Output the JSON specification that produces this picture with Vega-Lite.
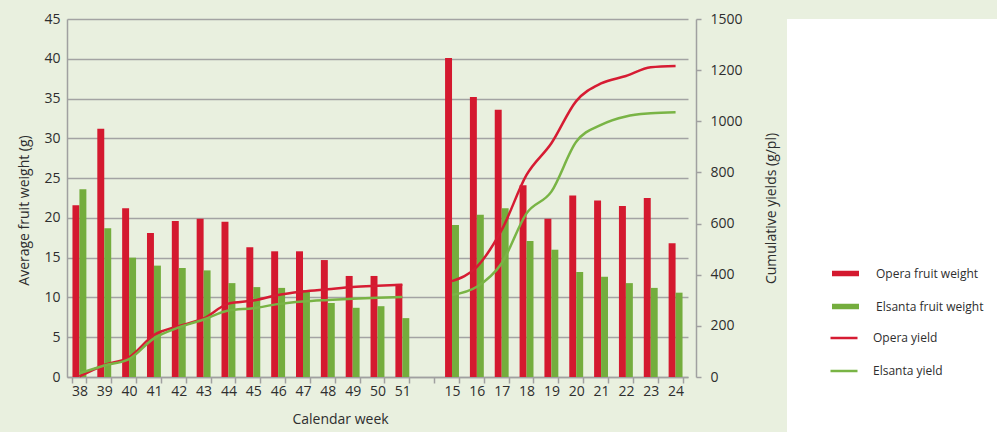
{
  "$schema": "https://vega.github.io/schema/vega-lite/v6.json",
  "background": "#e9f0df",
  "padding": {"left": 17, "top": 12, "right": 0, "bottom": 0},
  "spacing": 8,
  "config": {
    "font": "Open Sans",
    "view": {"stroke": null},
    "axis": {
      "labelFont": "Open Sans",
      "titleFont": "Open Sans",
      "labelColor": "#2e2e2e",
      "titleColor": "#2e2e2e",
      "labelFontSize": 14,
      "titleFontSize": 14,
      "titleFontWeight": "normal",
      "domainColor": "#a0a0a0",
      "domainWidth": 1.5,
      "tickColor": "#a0a0a0",
      "tickWidth": 1.5,
      "gridColor": "#a3a3a3",
      "gridWidth": 1.5
    },
    "legend": {
      "labelFont": "Open Sans",
      "labelFontSize": 12,
      "labelColor": "#2e2e2e",
      "labelOffset": 14,
      "rowPadding": 4,
      "symbolType": "stroke",
      "symbolSize": 729
    }
  },
  "datasets": {
    "bars": [
      {"week": "38", "variety": "Opera", "weight": 21.6},
      {"week": "38", "variety": "Elsanta", "weight": 23.6},
      {"week": "39", "variety": "Opera", "weight": 31.2},
      {"week": "39", "variety": "Elsanta", "weight": 18.7},
      {"week": "40", "variety": "Opera", "weight": 21.2},
      {"week": "40", "variety": "Elsanta", "weight": 15.0},
      {"week": "41", "variety": "Opera", "weight": 18.1},
      {"week": "41", "variety": "Elsanta", "weight": 14.0},
      {"week": "42", "variety": "Opera", "weight": 19.6},
      {"week": "42", "variety": "Elsanta", "weight": 13.7},
      {"week": "43", "variety": "Opera", "weight": 19.9},
      {"week": "43", "variety": "Elsanta", "weight": 13.4},
      {"week": "44", "variety": "Opera", "weight": 19.5},
      {"week": "44", "variety": "Elsanta", "weight": 11.8},
      {"week": "45", "variety": "Opera", "weight": 16.3},
      {"week": "45", "variety": "Elsanta", "weight": 11.3},
      {"week": "46", "variety": "Opera", "weight": 15.8},
      {"week": "46", "variety": "Elsanta", "weight": 11.2},
      {"week": "47", "variety": "Opera", "weight": 15.8},
      {"week": "47", "variety": "Elsanta", "weight": 10.9},
      {"week": "48", "variety": "Opera", "weight": 14.7},
      {"week": "48", "variety": "Elsanta", "weight": 9.3},
      {"week": "49", "variety": "Opera", "weight": 12.7},
      {"week": "49", "variety": "Elsanta", "weight": 8.7},
      {"week": "50", "variety": "Opera", "weight": 12.7},
      {"week": "50", "variety": "Elsanta", "weight": 8.9},
      {"week": "51", "variety": "Opera", "weight": 11.7},
      {"week": "51", "variety": "Elsanta", "weight": 7.4},
      {"week": "15", "variety": "Opera", "weight": 40.1},
      {"week": "15", "variety": "Elsanta", "weight": 19.1},
      {"week": "16", "variety": "Opera", "weight": 35.2},
      {"week": "16", "variety": "Elsanta", "weight": 20.4},
      {"week": "17", "variety": "Opera", "weight": 33.6},
      {"week": "17", "variety": "Elsanta", "weight": 21.2},
      {"week": "18", "variety": "Opera", "weight": 24.1},
      {"week": "18", "variety": "Elsanta", "weight": 17.1},
      {"week": "19", "variety": "Opera", "weight": 19.9},
      {"week": "19", "variety": "Elsanta", "weight": 16.0},
      {"week": "20", "variety": "Opera", "weight": 22.8},
      {"week": "20", "variety": "Elsanta", "weight": 13.2},
      {"week": "21", "variety": "Opera", "weight": 22.2},
      {"week": "21", "variety": "Elsanta", "weight": 12.6},
      {"week": "22", "variety": "Opera", "weight": 21.5},
      {"week": "22", "variety": "Elsanta", "weight": 11.8},
      {"week": "23", "variety": "Opera", "weight": 22.5},
      {"week": "23", "variety": "Elsanta", "weight": 11.2},
      {"week": "24", "variety": "Opera", "weight": 16.8},
      {"week": "24", "variety": "Elsanta", "weight": 10.6}
    ],
    "yields": [
      {"week": "38", "variety": "Opera", "part": "autumn", "yield": 2},
      {"week": "39", "variety": "Opera", "part": "autumn", "yield": 47},
      {"week": "40", "variety": "Opera", "part": "autumn", "yield": 77},
      {"week": "41", "variety": "Opera", "part": "autumn", "yield": 164},
      {"week": "42", "variety": "Opera", "part": "autumn", "yield": 199},
      {"week": "43", "variety": "Opera", "part": "autumn", "yield": 229},
      {"week": "44", "variety": "Opera", "part": "autumn", "yield": 287},
      {"week": "45", "variety": "Opera", "part": "autumn", "yield": 299},
      {"week": "46", "variety": "Opera", "part": "autumn", "yield": 321},
      {"week": "47", "variety": "Opera", "part": "autumn", "yield": 334},
      {"week": "48", "variety": "Opera", "part": "autumn", "yield": 343},
      {"week": "49", "variety": "Opera", "part": "autumn", "yield": 352},
      {"week": "50", "variety": "Opera", "part": "autumn", "yield": 357},
      {"week": "51", "variety": "Opera", "part": "autumn", "yield": 361},
      {"week": "38", "variety": "Elsanta", "part": "autumn", "yield": 14},
      {"week": "39", "variety": "Elsanta", "part": "autumn", "yield": 45},
      {"week": "40", "variety": "Elsanta", "part": "autumn", "yield": 70},
      {"week": "41", "variety": "Elsanta", "part": "autumn", "yield": 151},
      {"week": "42", "variety": "Elsanta", "part": "autumn", "yield": 194},
      {"week": "43", "variety": "Elsanta", "part": "autumn", "yield": 225},
      {"week": "44", "variety": "Elsanta", "part": "autumn", "yield": 260},
      {"week": "45", "variety": "Elsanta", "part": "autumn", "yield": 269},
      {"week": "46", "variety": "Elsanta", "part": "autumn", "yield": 285},
      {"week": "47", "variety": "Elsanta", "part": "autumn", "yield": 295},
      {"week": "48", "variety": "Elsanta", "part": "autumn", "yield": 301},
      {"week": "49", "variety": "Elsanta", "part": "autumn", "yield": 306},
      {"week": "50", "variety": "Elsanta", "part": "autumn", "yield": 310},
      {"week": "51", "variety": "Elsanta", "part": "autumn", "yield": 313},
      {"week": "15", "variety": "Opera", "part": "spring", "yield": 375},
      {"week": "16", "variety": "Opera", "part": "spring", "yield": 431},
      {"week": "17", "variety": "Opera", "part": "spring", "yield": 575},
      {"week": "18", "variety": "Opera", "part": "spring", "yield": 790},
      {"week": "19", "variety": "Opera", "part": "spring", "yield": 914},
      {"week": "20", "variety": "Opera", "part": "spring", "yield": 1079},
      {"week": "21", "variety": "Opera", "part": "spring", "yield": 1148},
      {"week": "22", "variety": "Opera", "part": "spring", "yield": 1177},
      {"week": "23", "variety": "Opera", "part": "spring", "yield": 1211},
      {"week": "24", "variety": "Opera", "part": "spring", "yield": 1216},
      {"week": "15", "variety": "Elsanta", "part": "spring", "yield": 321},
      {"week": "16", "variety": "Elsanta", "part": "spring", "yield": 353},
      {"week": "17", "variety": "Elsanta", "part": "spring", "yield": 445},
      {"week": "18", "variety": "Elsanta", "part": "spring", "yield": 640},
      {"week": "19", "variety": "Elsanta", "part": "spring", "yield": 725},
      {"week": "20", "variety": "Elsanta", "part": "spring", "yield": 920},
      {"week": "21", "variety": "Elsanta", "part": "spring", "yield": 986},
      {"week": "22", "variety": "Elsanta", "part": "spring", "yield": 1019},
      {"week": "23", "variety": "Elsanta", "part": "spring", "yield": 1031},
      {"week": "24", "variety": "Elsanta", "part": "spring", "yield": 1035}
    ],
    "legendBars": [
      {"series": "Opera fruit weight"},
      {"series": "Elsanta fruit weight"}
    ],
    "legendLines": [
      {"series": "Opera yield"},
      {"series": "Elsanta yield"}
    ]
  },
  "hconcat": [
    {
      "width": 629,
      "height": 358,
      "layer": [
        {
          "data": {"name": "bars"},
          "mark": {"type": "bar"},
          "encoding": {
            "x": {
              "field": "week",
              "type": "ordinal",
              "sort": null,
              "scale": {
                "domain": ["38","39","40","41","42","43","44","45","46","47","48","49","50","51"," ","15","16","17","18","19","20","21","22","23","24"],
                "range": [0, 621],
                "paddingInner": 0.44,
                "paddingOuter": 0.22
              },
              "axis": {
                "title": "Calendar week",
                "labelAngle": 0,
                "tickBand": "extent",
                "ticks": true,
                "tickSize": 6,
                "labelPadding": 1,
                "titlePadding": 14,
                "titleX": 273,
                "grid": false
              }
            },
            "xOffset": {
              "field": "variety",
              "type": "nominal",
              "sort": null,
              "scale": {"domain": ["Opera", "Elsanta"], "paddingInner": 0, "paddingOuter": 0}
            },
            "y": {
              "field": "weight",
              "type": "quantitative",
              "scale": {"domain": [0, 45]},
              "axis": {
                "title": "Average fruit weight (g)",
                "values": [0, 5, 10, 15, 20, 25, 30, 35, 40, 45],
                "ticks": false,
                "labelPadding": 7,
                "titlePadding": 12,
                "titleY": 191,
                "grid": true
              }
            },
            "color": {
              "field": "variety",
              "type": "nominal",
              "scale": {"domain": ["Opera", "Elsanta"], "range": ["#d4192f", "#74ad3d"]},
              "legend": null
            }
          }
        },
        {
          "data": {"name": "yields"},
          "mark": {"type": "line", "interpolate": "monotone", "strokeWidth": 2.5},
          "encoding": {
            "x": {
              "field": "week",
              "type": "ordinal",
              "sort": null,
              "scale": {
                "domain": ["38","39","40","41","42","43","44","45","46","47","48","49","50","51"," ","15","16","17","18","19","20","21","22","23","24"]
              }
            },
            "y": {
              "field": "yield",
              "type": "quantitative",
              "scale": {"domain": [0, 1400]},
              "axis": {
                "orient": "right",
                "title": "Cumulative yields (g/pl)",
                "titleAngle": 270,
                "values": [0, 200, 400, 600, 800, 1000, 1200, 1400],
                "format": "d",
                "labelExpr": "datum.value == 1400 ? '1500' : datum.label",
                "ticks": true,
                "tickSize": 5,
                "labelPadding": 9,
                "titlePadding": 36,
                "titleY": 189,
                "grid": false
              }
            },
            "color": {
              "field": "variety",
              "type": "nominal",
              "scale": {"domain": ["Opera", "Elsanta"], "range": ["#d61c33", "#79b445"]},
              "legend": null
            },
            "detail": {"field": "part"}
          }
        }
      ],
      "resolve": {"scale": {"y": "independent", "color": "independent"}}
    },
    {
      "width": 210,
      "height": 413,
      "view": {"fill": "#ffffff", "stroke": null},
      "layer": [
        {
          "data": {"name": "legendBars"},
          "mark": {"type": "line"},
          "encoding": {
            "color": {
              "field": "series",
              "type": "nominal",
              "sort": null,
              "scale": {
                "domain": ["Opera fruit weight", "Elsanta fruit weight"],
                "range": ["#d4192f", "#74ad3d"]
              },
              "legend": {
                "title": null,
                "orient": "none",
                "legendX": 42,
                "legendY": 238,
                "symbolStrokeWidth": 5.5,
                "rowPadding": 5
              }
            }
          }
        },
        {
          "data": {"name": "legendLines"},
          "mark": {"type": "line"},
          "encoding": {
            "color": {
              "field": "series",
              "type": "nominal",
              "sort": null,
              "scale": {
                "domain": ["Opera yield", "Elsanta yield"],
                "range": ["#d61c33", "#79b445"]
              },
              "legend": {
                "title": null,
                "orient": "none",
                "legendX": 42,
                "legendY": 304,
                "symbolStrokeWidth": 2.5,
                "rowPadding": 12
              }
            }
          }
        }
      ],
      "resolve": {"scale": {"color": "independent"}, "legend": {"color": "independent"}}
    }
  ],
  "resolve": {"scale": {"color": "independent"}}
}
